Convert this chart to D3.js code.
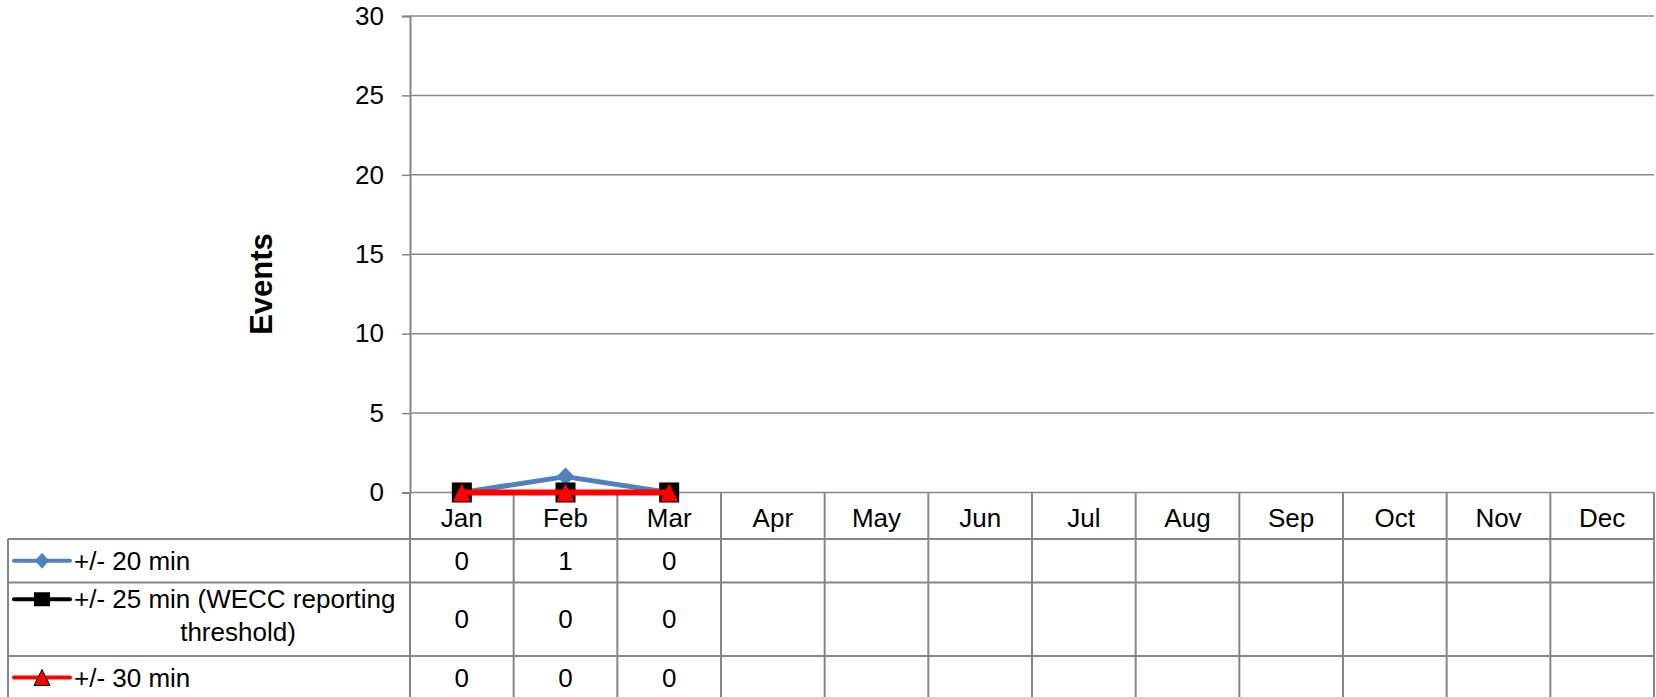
<!DOCTYPE html>
<html>
<head>
<meta charset="utf-8">
<script src="https://cdn.jsdelivr.net/npm/d3@7"></script>
<style>
  body { margin: 0; background: #fff; }
  svg { display: block; font-family: "Liberation Sans", Arial, sans-serif; }
</style>
</head>
<body>
<svg id="chart"></svg>
<script>
const months = ['Jan', 'Feb', 'Mar', 'Apr', 'May', 'Jun', 'Jul', 'Aug', 'Sep', 'Oct', 'Nov', 'Dec']
const min20 = [0, 1, 0]
const min25 = [0, 0, 0]
const min30 = [0, 0, 0]
const yTicks = [0, 5, 10, 15, 20, 25, 30]
const seriesNames = ['+/- 20 min', '+/- 25 min (WECC reporting threshold)', '+/- 30 min']

const width = 1656, height = 697
const plotLeft = 410, plotRight = 1654, plotTop = 16, zeroY = 492.5
const tableLeft = 8
const rowLines = [zeroY, 539, 582.5, 656, 699]
const gridColor = '#868686'
const fontSize = 26

const series = [
  { name: seriesNames[0], values: min20, color: '#4F81BD', marker: 'diamond' },
  { name: seriesNames[1], values: min25, color: '#000000', marker: 'square' },
  { name: seriesNames[2], values: min30, color: '#FF0000', marker: 'triangle' }
]

const svg = d3.select('#chart').attr('width', width).attr('height', height)

const x = d3.scaleBand().domain(months).range([plotLeft, plotRight]).padding(0)
const y = d3.scaleLinear().domain([0, 30]).range([zeroY, plotTop])

// gridlines
svg.append('g')
  .selectAll('line')
  .data(yTicks)
  .enter().append('line')
  .attr('x1', plotLeft).attr('x2', plotRight)
  .attr('y1', d => y(d)).attr('y2', d => y(d))
  .attr('stroke', gridColor).attr('stroke-width', 1.5)

// y axis
const yAxis = svg.append('g')
  .attr('transform', `translate(${plotLeft},0)`)
  .call(d3.axisLeft(y).tickValues(yTicks).tickSize(8).tickPadding(18))
yAxis.select('.domain').attr('stroke', gridColor).attr('stroke-width', 2)
yAxis.selectAll('.tick line').attr('stroke', gridColor).attr('stroke-width', 1.5)
yAxis.selectAll('.tick text')
  .attr('font-size', fontSize).attr('fill', '#000')
  .attr('font-family', '"Liberation Sans", Arial, sans-serif')

svg.append('text')
  .attr('transform', 'translate(261,284) rotate(-90)')
  .attr('text-anchor', 'middle').attr('dominant-baseline', 'central')
  .attr('font-size', 31).attr('font-weight', 'bold')
  .text('Events')

// data table
const table = svg.append('g')
table.selectAll('.vline')
  .data(months.map(m => x(m)).concat([plotRight]))
  .enter().append('line')
  .attr('x1', d => d).attr('x2', d => d)
  .attr('y1', zeroY).attr('y2', height)
  .attr('stroke', gridColor).attr('stroke-width', 2)
table.append('line')
  .attr('x1', tableLeft).attr('x2', tableLeft)
  .attr('y1', rowLines[1]).attr('y2', height)
  .attr('stroke', gridColor).attr('stroke-width', 2)
table.selectAll('.hline')
  .data(rowLines.slice(1))
  .enter().append('line')
  .attr('x1', tableLeft).attr('x2', plotRight)
  .attr('y1', d => d).attr('y2', d => d)
  .attr('stroke', gridColor).attr('stroke-width', 2)

table.selectAll('.month')
  .data(months)
  .enter().append('text')
  .attr('x', d => x(d) + x.bandwidth() / 2)
  .attr('y', 518)
  .attr('text-anchor', 'middle').attr('dominant-baseline', 'central')
  .attr('font-size', fontSize)
  .text(d => d)

function markerPath(type, cx, cy, s) {
  if (type === 'diamond') return `M${cx},${cy - s.h}L${cx + s.w},${cy}L${cx},${cy + s.h}L${cx - s.w},${cy}Z`
  if (type === 'square') return `M${cx - s.w},${cy - s.h}h${2 * s.w}v${2 * s.h}h${-2 * s.w}Z`
  return `M${cx},${cy - s.h}L${cx + s.w},${cy + s.h}L${cx - s.w},${cy + s.h}Z`
}
const chartSize = { diamond: { w: 9, h: 9 }, square: { w: 10, h: 10 }, triangle: { w: 9, h: 9 } }
const legendSize = { diamond: { w: 7, h: 8 }, square: { w: 8, h: 7 }, triangle: { w: 8, h: 8 } }

series.forEach((s, i) => {
  const rowTop = rowLines[i + 1], rowBottom = rowLines[i + 2]
  const cy = (rowTop + rowBottom) / 2
  const keyY = i === 1 ? cy - 20 : cy
  const row = table.append('g')

  row.append('line')
    .attr('x1', 14).attr('x2', 70).attr('y1', keyY).attr('y2', keyY)
    .attr('stroke', s.color).attr('stroke-width', 4).attr('stroke-linecap', 'round')
  row.append('path')
    .attr('d', markerPath(s.marker, 42, keyY, legendSize[s.marker]))
    .attr('fill', s.color)
    .attr('stroke', s.marker === 'triangle' ? '#000' : 'none').attr('stroke-width', 1)

  if (i === 1) {
    row.append('text').attr('x', 74).attr('y', keyY)
      .attr('dominant-baseline', 'central').attr('font-size', fontSize)
      .text('+/- 25 min (WECC reporting')
    row.append('text').attr('x', 238).attr('y', cy + 13)
      .attr('text-anchor', 'middle').attr('dominant-baseline', 'central').attr('font-size', fontSize)
      .text('threshold)')
  } else {
    row.append('text').attr('x', 74).attr('y', cy)
      .attr('dominant-baseline', 'central').attr('font-size', fontSize)
      .text(s.name)
  }

  row.selectAll('.val')
    .data(s.values)
    .enter().append('text')
    .attr('x', (d, j) => x(months[j]) + x.bandwidth() / 2)
    .attr('y', cy)
    .attr('text-anchor', 'middle').attr('dominant-baseline', 'central')
    .attr('font-size', fontSize)
    .text(d => d)
})

// lines and markers
const line = d3.line()
  .x((d, j) => x(months[j]) + x.bandwidth() / 2)
  .y(d => y(d))

series.forEach(s => {
  svg.append('path')
    .datum(s.values)
    .attr('d', line)
    .attr('fill', 'none')
    .attr('stroke', s.color)
    .attr('stroke-width', s.marker === 'triangle' ? 6 : 5)
    .attr('stroke-linejoin', 'round')
  svg.append('g')
    .selectAll('path')
    .data(s.values)
    .enter().append('path')
    .attr('d', (d, j) => markerPath(s.marker, x(months[j]) + x.bandwidth() / 2, y(d), chartSize[s.marker]))
    .attr('fill', s.color)
})
</script>
</body>
</html>
